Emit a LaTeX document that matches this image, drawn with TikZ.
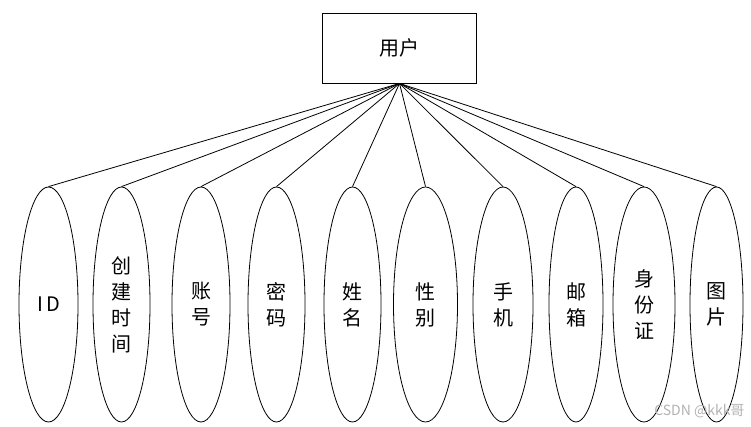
\documentclass[tikz,border=0pt]{standalone}
\usepackage{fontspec}
\newfontfamily\cjk{Noto Sans CJK SC}
\usetikzlibrary{positioning,shapes.geometric}

\begin{document}
\begin{tikzpicture}[
  x=1pt, y=-1pt,
  entity/.style={draw, line width=0.9pt, minimum width=154pt, minimum height=70pt, inner sep=0pt, font=\cjk\fontsize{20}{26}\selectfont},
  attr/.style={draw, ellipse, line width=0.8pt, minimum height=235pt, inner sep=0pt, align=center, font=\cjk\fontsize{20}{26}\selectfont},
  link/.style={line width=0.8pt},
]
\useasboundingbox (0,0) rectangle (751,427);

% Entity
\node[entity] (user) at (399.5,48) {用户};

% Attributes
\foreach \n/\x/\w/\lab in {1/48.5/59/{I\,D}, 2/121.5/57/{创\\建\\时\\间}, 3/201/58/{账\\号},
  4/276.5/57/{密\\码}, 5/352.5/57/{姓\\名}, 6/425.5/64/{性\\别}, 7/503/60/{手\\机},
  8/576/54/{邮\\箱}, 9/644/62/{身\\份\\证}, 10/716.5/53/{图\\片}} {
  \node[attr, minimum width=\w pt] (attr\n) at (\x,304.5) {\lab};
  \draw[link] (user.south) -- (attr\n.north);
}

% Watermark
\node[font=\cjk\fontsize{14}{14}\selectfont, text=black!30, anchor=east] (mark) at (748,411) {CSDN @kkk哥};
\end{tikzpicture}
\end{document}
